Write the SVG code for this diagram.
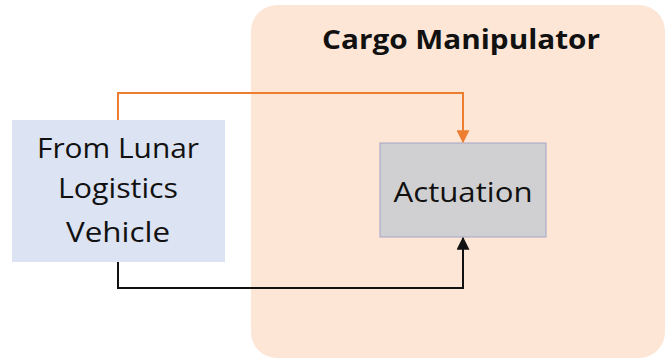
<svg xmlns="http://www.w3.org/2000/svg" width="667" height="360" viewBox="0 0 667 360">
<defs>
<style>
.lbl{font-family:"Open Sans","Liberation Sans",sans-serif;fill:#111;text-anchor:middle}
.conn{fill:none;stroke-width:2}
</style>
<marker id="ah-o" viewBox="0 0 10 10" refX="9" refY="5" markerWidth="6.5" markerHeight="6.5" orient="auto" markerUnits="strokeWidth"><path d="M0,0 L10,5 L0,10 z" fill="#ED7D31"/></marker>
<marker id="ah-k" viewBox="0 0 10 10" refX="9" refY="5" markerWidth="6.5" markerHeight="6.5" orient="auto" markerUnits="strokeWidth"><path d="M0,0 L10,5 L0,10 z" fill="#111"/></marker>
</defs>
<rect width="667" height="360" fill="#fff"/>
<g id="cargo-manipulator">
<rect x="251" y="5" width="414" height="353" rx="26" fill="#FDE6D6"/>
<text class="lbl" x="461" y="49" font-size="26" font-weight="bold" textLength="278" lengthAdjust="spacingAndGlyphs">Cargo Manipulator</text>
</g>
<g id="llv">
<rect x="12" y="120" width="213" height="142" fill="#DCE3F2"/>
<text class="lbl" x="118" y="158" font-size="28" textLength="162" lengthAdjust="spacingAndGlyphs">From Lunar</text>
<text class="lbl" x="118" y="198" font-size="28" textLength="120" lengthAdjust="spacingAndGlyphs">Logistics</text>
<text class="lbl" x="118" y="242" font-size="28" textLength="104" lengthAdjust="spacingAndGlyphs">Vehicle</text>
</g>
<g id="actuation">
<rect x="380" y="143" width="166" height="94" fill="#D0D0D2" stroke="#A4A4C8" stroke-width="1"/>
<text class="lbl" x="463" y="202" font-size="28" textLength="139" lengthAdjust="spacingAndGlyphs">Actuation</text>
</g>
<g id="connectors">
<path class="conn" d="M118,120 V93 H463 V142" stroke="#ED7D31" marker-end="url(#ah-o)"/>
<path class="conn" d="M118,262 V288 H463 V238" stroke="#111" marker-end="url(#ah-k)"/>
</g>
</svg>
